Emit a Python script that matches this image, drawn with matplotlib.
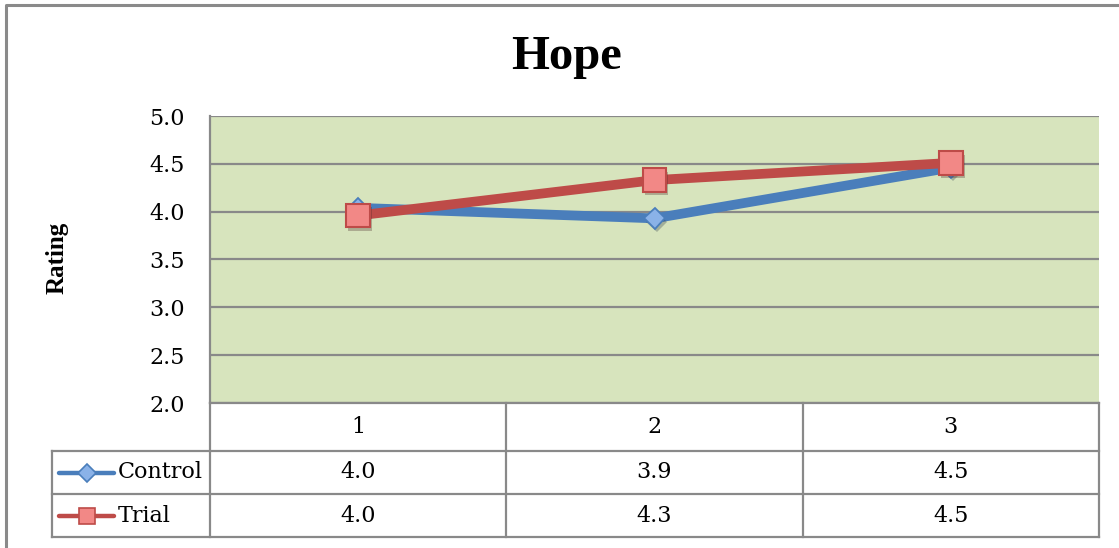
import matplotlib
matplotlib.use('Agg')
import matplotlib.pyplot as plt
import matplotlib.patheffects as pe
from matplotlib.lines import Line2D
from matplotlib.transforms import blended_transform_factory

# data
categories = ['1', '2', '3']
control = [4.04, 3.93, 4.46]
trial = [3.96, 4.33, 4.51]
series_names = ['Control', 'Trial']
yticks = [2.0, 2.5, 3.0, 3.5, 4.0, 4.5, 5.0]

plt.rcParams['font.family'] = ['DejaVu Serif']
bold_font = ['Liberation Serif', 'DejaVu Serif']
fs = 16

W, H = 1119, 548
fig = plt.figure(figsize=(W / 100, H / 100), dpi=100)

def fx(px):
    return px / W

def fy(py):
    return 1 - py / H

grid_col = '#898989'
blue, blue_fill = '#4a7ebb', '#8ab2e8'
red, red_fill = '#be4b48', '#f28886'

ax = fig.add_axes([fx(210), fy(403), fx(1099) - fx(210), fy(116) - fy(403)])
ax.set_facecolor('#d7e4bd')
ax.set_xlim(0, len(categories))
ax.set_ylim(yticks[0], yticks[-1])
ax.set_yticks(yticks)
ax.set_yticklabels([f'{t:.1f}' for t in yticks], fontsize=fs)
ax.set_xticks([])
ax.tick_params(axis='y', length=0, pad=18)
ax.yaxis.grid(True, color=grid_col, lw=1.6)
ax.set_axisbelow(True)
for s in ['top', 'right']:
    ax.spines[s].set_visible(False)
for s in ['left', 'bottom']:
    ax.spines[s].set_color(grid_col)
    ax.spines[s].set_linewidth(1.6)

xs = [i + 0.5 for i in range(len(categories))]
shadow = [pe.SimplePatchShadow(offset=(1.5, -2.5), alpha=0.3), pe.Normal()]

ax.plot(xs, control, color=blue, lw=7, solid_joinstyle='round', zorder=3)
ax.plot(xs, control, ls='none', marker='D', ms=10.5, mfc=blue_fill, mec=blue,
        mew=1.3, path_effects=shadow, zorder=4)
ax.plot(xs, trial, color=red, lw=7, solid_joinstyle='round', zorder=5)
ax.plot(xs, trial, ls='none', marker='s', ms=17, mfc=red_fill, mec=red,
        mew=1.5, path_effects=shadow, zorder=6)

fig.text(fx(567), fy(57), 'Hope', fontsize=35, fontweight='bold',
         family=bold_font, ha='center', va='center')
fig.text(fx(57), fy(258), 'Rating', fontsize=18, fontweight='bold',
         family=bold_font, rotation=90, ha='center', va='center')

# data table under the plot
tr = blended_transform_factory(ax.transData, fig.transFigure)
row_top = [403, 451, 494]
row_bot = [451, 494, 537]
lw_tab = 1.6

for py in row_bot:
    fig.add_artist(Line2D([fx(52), fx(1099)], [fy(py), fy(py)], color=grid_col,
                          lw=lw_tab, transform=fig.transFigure))
for i in range(len(categories) + 1):
    fig.add_artist(Line2D([i, i], [fy(403), fy(537)], color=grid_col,
                          lw=lw_tab, transform=tr))
fig.add_artist(Line2D([fx(52), fx(52)], [fy(451), fy(537)], color=grid_col,
                      lw=lw_tab, transform=fig.transFigure))

yc = [(a + b) / 2 for a, b in zip(row_top, row_bot)]
for x, c in zip(xs, categories):
    fig.text(x, fy(yc[0]), c, transform=tr, fontsize=fs, ha='center', va='center')

styles = [(control, blue, blue_fill, 'D', 9.5), (trial, red, red_fill, 's', 11.5)]
for r, (name, (vals, col, fill, mk, ms)) in enumerate(zip(series_names, styles)):
    y = fy(yc[r + 1])
    for x, v in zip(xs, vals):
        fig.text(x, y, f'{v:.1f}', transform=tr, fontsize=fs,
                 ha='center', va='center')
    fig.add_artist(Line2D([fx(59), fx(114)], [y, y], color=col, lw=3.2,
                          solid_capstyle='round', transform=fig.transFigure))
    fig.add_artist(Line2D([fx(87)], [y], ls='none', marker=mk, ms=ms,
                          mfc=fill, mec=col, mew=1.2, transform=fig.transFigure))
    fig.text(fx(118), y, name, fontsize=fs, ha='left', va='center')

# outer chart frame
fig.add_artist(Line2D([fx(6), fx(6), 1.0], [0.0, fy(5), fy(5)], color='#8a8a8a',
                      lw=2.2, transform=fig.transFigure))

fig.savefig('out.png', dpi=100)
